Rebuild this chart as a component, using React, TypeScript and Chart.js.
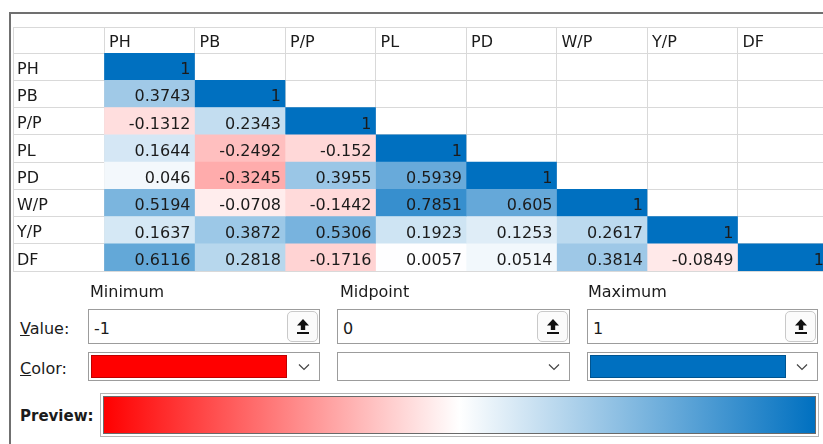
import React, { useEffect, useRef } from 'react';
import { Chart, registerables } from 'chart.js';

Chart.register(...registerables);

// ---- data ----
const colLabels = ['PH', 'PB', 'P/P', 'PL', 'PD', 'W/P', 'Y/P', 'DF'];
const rowLabels = ['PH', 'PB', 'P/P', 'PL', 'PD', 'W/P', 'Y/P', 'DF'];

const rowPH = [1];
const rowPB = [0.3743, 1];
const rowPP = [-0.1312, 0.2343, 1];
const rowPL = [0.1644, -0.2492, -0.152, 1];
const rowPD = [0.046, -0.3245, 0.3955, 0.5939, 1];
const rowWP = [0.5194, -0.0708, -0.1442, 0.7851, 0.605, 1];
const rowYP = [0.1637, 0.3872, 0.5306, 0.1923, 0.1253, 0.2617, 1];
const rowDF = [0.6116, 0.2818, -0.1716, 0.0057, 0.0514, 0.3814, -0.0849, 1];

const matrixRows = [rowPH, rowPB, rowPP, rowPL, rowPD, rowWP, rowYP, rowDF];

const scaleMin = -1;
const scaleMid = 0;
const scaleMax = 1;
const minRGB = [255, 0, 0];
const midRGB = [255, 255, 255];
const maxRGB = [0, 112, 192];

const FONT = '"DejaVu Sans", sans-serif';
const TEXT = '#1b1b1b';
const GRID = '#d9d9d9';

function lerp(a: number[], b: number[], t: number) {
  const c = a.map((v, k) => Math.round(v + (b[k] - v) * t));
  return `rgb(${c[0]},${c[1]},${c[2]})`;
}

function colorFor(v: number) {
  if (v >= scaleMid) return lerp(midRGB, maxRGB, (v - scaleMid) / (scaleMax - scaleMid));
  return lerp(midRGB, minRGB, (scaleMid - v) / (scaleMid - scaleMin));
}

const cellTextPlugin = {
  id: 'cellText',
  afterDatasetsDraw(chart: any) {
    const ctx = chart.ctx;
    ctx.save();
    ctx.font = `16px ${FONT}`;
    ctx.fillStyle = TEXT;
    ctx.textAlign = 'right';
    ctx.textBaseline = 'alphabetic';
    chart.data.datasets.forEach((_ds: any, j: number) => {
      const meta = chart.getDatasetMeta(j);
      meta.data.forEach((el: any, i: number) => {
        const row = matrixRows[i];
        if (j >= row.length) return;
        const p = el.getProps(['x', 'y', 'base'], true);
        const right = Math.max(p.x, p.base);
        ctx.fillText(String(row[j]), right - 4, p.y + 7.5);
      });
    });
    ctx.restore();
  },
};

function UploadIcon() {
  return (
    <svg width="14" height="17" viewBox="0 0 14 17">
      <path d="M7 1 L13 7.5 H9.2 V12 H4.8 V7.5 H1 Z" fill="#111" />
      <rect x="1" y="14" width="12" height="2" fill="#111" />
    </svg>
  );
}

function Chevron() {
  return (
    <svg width="12" height="8" viewBox="0 0 12 8">
      <polyline points="1,1.5 6,6.5 11,1.5" fill="none" stroke="#444" strokeWidth="1.2" />
    </svg>
  );
}

const boxBase: React.CSSProperties = {
  position: 'absolute',
  boxSizing: 'border-box',
  border: '1px solid #9c9c9c',
  background: '#fff',
};

function ValueBox({ left, width, text }: { left: number; width: number; text: string }) {
  return (
    <div style={{ ...boxBase, left, top: 309, width, height: 35 }}>
      <span style={{ position: 'absolute', left: 5, top: 9, lineHeight: '20px', fontSize: 16 }}>{text}</span>
      <div
        style={{
          position: 'absolute', right: 1, top: 1, width: 31, height: 31, boxSizing: 'border-box',
          border: '1px solid #c9c9c9', borderRadius: 5, background: '#fbfbfb',
          display: 'flex', alignItems: 'center', justifyContent: 'center',
        }}
      >
        <UploadIcon />
      </div>
    </div>
  );
}

function ColorBox({ left, width, swatch }: { left: number; width: number; swatch?: string }) {
  return (
    <div style={{ ...boxBase, left, top: 352, width, height: 29 }}>
      {swatch && (
        <div
          style={{
            position: 'absolute', left: 2, top: 2, width: 196, height: 23, boxSizing: 'border-box',
            background: swatch, border: '1px solid rgba(0,0,0,0.25)',
          }}
        />
      )}
      <div
        style={{
          position: 'absolute', right: 0, top: 0, width: 31, height: 27,
          display: 'flex', alignItems: 'center', justifyContent: 'center',
        }}
      >
        <Chevron />
      </div>
    </div>
  );
}

export default function App() {
  const ref = useRef<HTMLCanvasElement>(null);

  useEffect(() => {
    const datasets = colLabels.map((c, j) => ({
      label: c,
      data: matrixRows.map((r) => (j < r.length ? [j, j + 1] : null)),
      backgroundColor: matrixRows.map((r) => (j < r.length ? colorFor(r[j]) : 'rgba(0,0,0,0)')),
      borderWidth: 0,
      grouped: false,
      categoryPercentage: 1,
      barPercentage: 1,
    }));

    const chart = new Chart(ref.current as HTMLCanvasElement, {
      type: 'bar',
      data: { labels: rowLabels, datasets: datasets as any },
      options: {
        indexAxis: 'y',
        animation: false,
        responsive: false,
        maintainAspectRatio: false,
        layout: { padding: { left: 17, top: 27, right: 12, bottom: 19 } },
        plugins: { legend: { display: false }, tooltip: { enabled: false } },
        scales: {
          x: {
            type: 'linear',
            position: 'top',
            min: 0,
            max: colLabels.length,
            afterBuildTicks: (axis: any) => {
              axis.ticks = colLabels.map((_, k) => ({ value: k })).concat([{ value: colLabels.length }]);
            },
            ticks: {
              autoSkip: false,
              maxRotation: 0,
              minRotation: 0,
              align: 'start',
              labelOffset: 5,
              padding: -25,
              color: TEXT,
              font: { family: FONT, size: 16 },
              callback: (v: any) => colLabels[v as number] ?? '',
            },
            grid: { color: GRID, tickColor: GRID, tickLength: 26, drawTicks: true, lineWidth: 1 },
            border: { display: false },
            afterFit: (axis: any) => {
              axis.height = 26;
            },
          } as any,
          y: {
            type: 'category',
            offset: true,
            ticks: {
              autoSkip: false,
              crossAlign: 'far',
              padding: 0,
              labelOffset: 3,
              color: TEXT,
              font: { family: FONT, size: 16 },
            },
            grid: { offset: true, color: GRID, tickColor: GRID, tickLength: 91, drawTicks: true, lineWidth: 1 },
            border: { display: false },
            afterFit: (axis: any) => {
              axis.width = 87;
            },
          } as any,
        },
      },
      plugins: [cellTextPlugin],
    });
    return () => chart.destroy();
  }, []);

  return (
    <div
      style={{
        position: 'fixed', left: 0, top: 0, width: 823, height: 444, overflow: 'hidden',
        background: '#fff', fontFamily: FONT, color: TEXT, fontSize: 16,
      }}
    >
      {/* dialog frame */}
      <div
        style={{
          position: 'absolute', left: 9, top: 12, width: 900, height: 500,
          borderTop: '2px solid #707070', borderLeft: '2px solid #707070',
        }}
      />
      {/* table outer grid line (top/left) */}
      <div
        style={{
          position: 'absolute', left: 13, top: 27, width: 815, height: 244,
          borderTop: `1px solid ${GRID}`, borderLeft: `1px solid ${GRID}`,
        }}
      />
      <canvas
        ref={ref}
        width={840}
        height={290}
        style={{ position: 'absolute', left: 0, top: 0, width: 840, height: 290 }}
      />

      {/* colour-scale dialog */}
      <div style={{ position: 'absolute', left: 90, top: 282, lineHeight: '20px' }}>Minimum</div>
      <div style={{ position: 'absolute', left: 340, top: 282, lineHeight: '20px' }}>Midpoint</div>
      <div style={{ position: 'absolute', left: 588, top: 282, lineHeight: '20px' }}>Maximum</div>

      <div style={{ position: 'absolute', left: 20, top: 319, lineHeight: '20px' }}>
        <u>V</u>alue:
      </div>
      <div style={{ position: 'absolute', left: 20, top: 359, lineHeight: '20px' }}>
        <u>C</u>olor:
      </div>

      <ValueBox left={88} width={232} text={String(scaleMin)} />
      <ValueBox left={337} width={233} text={String(scaleMid)} />
      <ValueBox left={587} width={231} text={String(scaleMax)} />

      <ColorBox left={88} width={232} swatch={`rgb(${minRGB.join(',')})`} />
      <ColorBox left={337} width={233} />
      <ColorBox left={587} width={231} swatch={`rgb(${maxRGB.join(',')})`} />

      <div style={{ position: 'absolute', left: 20, top: 406, lineHeight: '20px', fontWeight: 'bold', fontSize: 15 }}>
        Preview:
      </div>
      <div
        style={{
          position: 'absolute', left: 100, top: 393, width: 719, height: 44, boxSizing: 'border-box',
          border: '1px solid #b4b4b4', padding: 2,
        }}
      >
        <div
          style={{
            width: '100%', height: '100%', boxSizing: 'border-box', border: '1px solid #6a6a6a',
            background: `linear-gradient(to right, rgb(${minRGB.join(',')}), rgb(${midRGB.join(',')}) 50%, rgb(${maxRGB.join(',')}))`,
          }}
        />
      </div>
    </div>
  );
}
